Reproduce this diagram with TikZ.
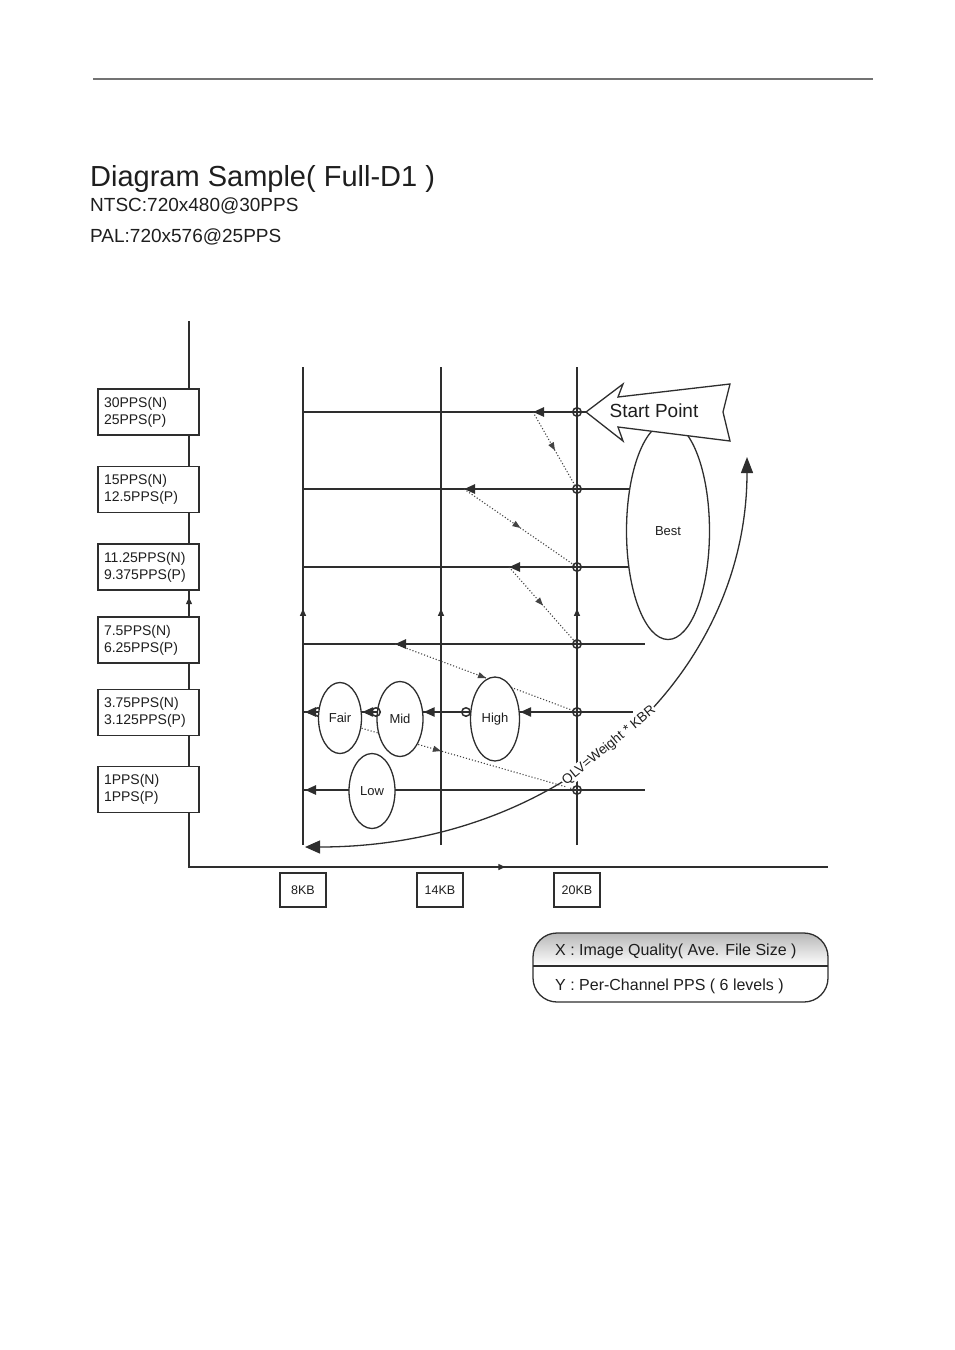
\documentclass[tikz,border=0pt]{standalone}
\usepackage{fontspec}
\setmainfont{Liberation Sans}
\usetikzlibrary{arrows.meta,shapes.geometric,decorations.markings}
\definecolor{ln}{HTML}{2E2E2E}
\definecolor{tx}{HTML}{1E1E1E}
\newcommand\fsz[2]{\fontsize{#1}{#2}\selectfont}
\begin{document}
\begin{tikzpicture}[x=1pt,y=-1pt,
  gline/.style={draw=ln,line width=1.3pt},
  thk/.style={draw=ln,line width=2.5pt,-{Triangle[length=11pt,width=9pt]}},
  midarr/.style={postaction={decorate},decoration={markings,mark=at position #1 with {\arrow{Triangle[length=7pt,width=6pt]}}}},
  midarr/.default=0.5,
  dotl/.style={draw=ln!90,line width=1.1pt,dotted,postaction={decorate},decoration={markings,mark=at position 0.5 with {\arrow[solid]{Triangle[length=8pt,width=6pt]}}}},
  ppsbox/.style={draw=ln,line width=1.3pt,fill=white,minimum width=101pt,minimum height=46pt,text width=89pt,inner sep=6pt,align=left,font=\fsz{14}{17},text=tx},
  kbbox/.style={draw=ln,line width=1.3pt,fill=white,minimum width=46pt,minimum height=34pt,font=\fsz{12.5}{15},text=tx},
  ell/.style={ellipse,draw=ln,line width=1.3pt,fill=white,inner sep=0pt,font=\fsz{13}{15},text=tx},
  dot/.style={circle,draw=ln,line width=1.5pt,minimum size=8.5pt,inner sep=0pt},
  ttl/.style={anchor=base west,inner sep=0pt,text=tx}
]
\useasboundingbox (0,0) rectangle (954,1350);

% header
\coordinate (hl) at (93,79); \coordinate (hr) at (873,79);
\draw[draw=black!55,line width=1.4pt] (hl) -- (hr);
\node[ttl,font=\fsz{29}{34}] (title) at (90,186) {Diagram Sample( Full-D1 )};
\node[ttl,font=\fsz{19}{22}] (ntsc) at (90,211) {NTSC:720x480@30PPS};
\node[ttl,font=\fsz{19}{22}] (pal) at (90,242) {PAL:720x576@25PPS};

% axes
\coordinate (o) at (189,867); \coordinate (ytop) at (189,321); \coordinate (xend) at (828,867);
\coordinate (yb) at (189,868);
\draw[gline,midarr=0.495] (yb) -- (ytop);
\draw[gline,midarr=0.495] (o) -- (xend);

% vertical grid lines
\foreach \x/\n in {303/a,441/b,577/c}{
  \coordinate (v\n b) at (\x,845); \coordinate (v\n t) at (\x,367);
  \draw[gline,midarr=0.494] (v\n b) -- (v\n t);
}

% row lines
\foreach \i/\y in {1/412,2/489,3/567,4/644,5/712,6/790}{
  \coordinate (l\i) at (303,\y);
}
\coordinate (r1) at (586,412);
\coordinate (r2) at (668,489);
\coordinate (r3) at (668,567);
\coordinate (r4) at (645,644);
\coordinate (r5) at (633,712);
\coordinate (r6) at (645,790);
\foreach \i in {1,...,6}{ \draw[gline] (l\i) -- (r\i); }

% arrow tips
\coordinate (t1) at (533,412);
\coordinate (t2) at (464,489);
\coordinate (t3) at (509,567);
\coordinate (t4) at (395,644);
\coordinate (t5) at (305,712);
\coordinate (t6) at (305,790);

% circles on the 20KB line
\foreach \i/\y in {1/412,2/489,3/567,4/644,5/712,6/790}{
  \node[dot] (c\i) at (577,\y) {};
}
\node[dot] (c5d) at (318,712) {};

% dotted transitions
\draw[dotl] (t1) -- (c2.center);
\draw[dotl] (t2) -- (c3.center);
\draw[dotl] (t3) -- (c4.center);
\draw[dotl] (t4) -- (c5.center);
\draw[dotl] (t5) -- (c6.center);

% ellipses
\node[ell,minimum width=83pt,minimum height=217pt] (best) at (668,531) {Best};
\node[ell,minimum width=49pt,minimum height=84pt] (high) at (495,719) {High};
\node[ell,minimum width=46pt,minimum height=75pt] (mid) at (400,719) {Mid};
\node[ell,minimum width=43pt,minimum height=71pt] (fair) at (340,718) {Fair};
\node[ell,minimum width=46pt,minimum height=75pt] (low) at (372,791) {Low};

\node[dot] (c5b) at (466,712) {};
\node[dot] (c5c) at (376,712) {};

% thick arrows
\draw[thk] (c1.west) -- (t1);
\draw[thk] (c2.west) -- (t2);
\draw[thk] (c3.west) -- (t3);
\draw[thk] (c4.west) -- (t4);
\draw[thk] (c5.west) -- (high.east |- c5);
\draw[thk] (c5b.west) -- (mid.east |- c5);
\draw[thk] (c5c.west) -- (fair.east |- c5);
\draw[thk] (c5d.west) -- (t5);
\draw[draw=ln,line width=2.5pt] (c6.west) -- (low.east |- c6);
\draw[thk] (low.west |- c6) -- (t6);

% start point arrow
\draw[draw=ln,line width=1.3pt,fill=white,line join=miter]
  (r1) -- (623,384) -- (618,397) -- (730,384) -- (723,412) -- (730,441) -- (618,427) -- (623,441) -- cycle;
\node[inner sep=0pt,font=\fsz{19}{22},text=tx] (start) at (654,411) {Start Point};

% QLV curve
\coordinate (qs) at (305,847); \coordinate (qe) at (747,457);
\draw[draw=ln,line width=1.3pt,{Triangle[length=15pt,width=13pt]}-{Triangle[length=16pt,width=12pt]}]
  (qs) .. controls (565,847) and (747,674) .. (qe)
  node[sloped,pos=0.47,fill=white,inner sep=1pt,font=\fsz{13.5}{15},text=tx] (qlv) {QLV=Weight * KBR};

% pps boxes
\node[ppsbox] (b1) at (148.5,412) {30PPS(N)\\25PPS(P)};
\node[ppsbox] (b2) at (148.5,489.5) {15PPS(N)\\12.5PPS(P)};
\node[ppsbox] (b3) at (148.5,567) {11.25PPS(N)\\9.375PPS(P)};
\node[ppsbox] (b4) at (148.5,640) {7.5PPS(N)\\6.25PPS(P)};
\node[ppsbox] (b5) at (148.5,712.5) {3.75PPS(N)\\3.125PPS(P)};
\node[ppsbox] (b6) at (148.5,789.5) {1PPS(N)\\1PPS(P)};

% kb boxes
\node[kbbox] (k8) at (303,890) {8KB};
\node[kbbox] (k14) at (440,890) {14KB};
\node[kbbox] (k20) at (577,890) {20KB};

% legend
\begin{scope}
  \clip[rounded corners=24pt] (533,933) rectangle (828,1002);
  \shade[top color=black!28,bottom color=white] (533,933) rectangle (828,966);
\end{scope}
\draw[draw=ln,line width=1.3pt,rounded corners=24pt] (533,933) rectangle (828,1002);
\coordinate (dl) at (533,966); \coordinate (dr) at (828,966);
\draw[draw=ln,line width=1.5pt] (dl) -- (dr);
\node[anchor=base west,inner sep=0pt,font=\fsz{16}{19},text=tx] (legx) at (555,955) {X : Image Quality( Ave. File Size )};
\node[anchor=base west,inner sep=0pt,font=\fsz{16}{19},text=tx] (legy) at (555,990) {Y : Per-Channel PPS ( 6 levels )};
\end{tikzpicture}
\end{document}
